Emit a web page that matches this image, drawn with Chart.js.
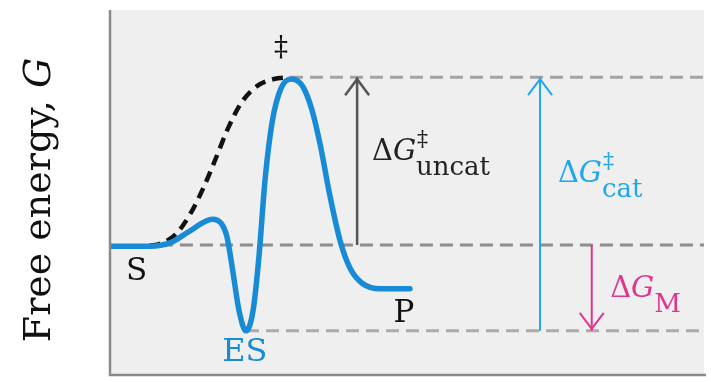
<!DOCTYPE html>
<html>
<head>
<meta charset="UTF-8">
<title>Free energy diagram</title>
<style>
  html, body { margin: 0; background: #fff; }
  #wrap { width: 711px; height: 382px; }
</style>
</head>
<body>
<div id="wrap"><canvas id="chart"></canvas></div>
<script src="https://cdn.jsdelivr.net/npm/chart.js"></script>
<script>
// reaction coordinate (0-100) vs free energy (0-100)
const levelTS = 81.6, levelS = 35.6, levelES = 12.1, levelP = 23.5;

// catalysed path (blue): S -> ES -> transition state -> P
const catX = [0, 6.7, 10.1, 13.5, 17.2, 18.7, 19.7, 20.7, 21.7, 22.9, 24.1, 25.1, 26.1, 27.3, 28.8, 30.6, 32.5, 34.0, 35.4, 37.0, 38.7, 40.4, 42.4, 45.5, 50.5];
const catG = [35.3, 35.3, 36.2, 39.5, 42.7, 41.6, 37.8, 28.2, 17.8, 12.1, 17.8, 32.9, 53.4, 69.3, 78.6, 81.1, 78.9, 72.6, 63.0, 49.3, 37.0, 29.3, 25.2, 23.6, 23.6];

// uncatalysed path (black dashed)
const uncatX = [6.7, 8.4, 11.1, 13.5, 15.7, 17.7, 19.9, 22.2, 24.8, 27.6, 30.3];
const uncatG = [35.4, 35.9, 38.6, 44.1, 51.2, 58.9, 67.7, 74.8, 79.2, 81.1, 81.6];

// dashed reference levels
const levelStart = [30.3, 8.4, 22.9];
const levelG = [levelTS, levelS, levelES];
const levelColor = ['#a3a3a3', '#8e8e8e', '#ababab'];

// energy arrows
const arrowX = [41.6, 72.4, 81.1];
const arrowFrom = [levelS, levelES, levelS];
const arrowTo = [levelTS, levelTS, levelES];
const arrowColor = ['#555555', '#1fa6ee', '#e0358c'];
const arrowWidth = [2.5, 2, 2];

const serif = '"DejaVu Serif", serif';

const datasets = [];
levelG.forEach((g, i) => {
  datasets.push({
    data: [{ x: levelStart[i], y: g }, { x: 100, y: g }],
    borderColor: levelColor[i], borderWidth: 3, borderDash: [13, 7],
    showLine: true, pointRadius: 0, order: 4
  });
});
arrowX.forEach((ax, i) => {
  datasets.push({
    data: [{ x: ax, y: arrowFrom[i] }, { x: ax, y: arrowTo[i] }],
    borderColor: arrowColor[i], borderWidth: arrowWidth[i],
    showLine: true, pointRadius: 0, order: 3
  });
});
datasets.push({
  data: uncatX.map((v, i) => ({ x: v, y: uncatG[i] })),
  borderColor: '#111', borderWidth: 4.5, borderDash: [11, 7],
  showLine: true, pointRadius: 0, cubicInterpolationMode: 'monotone', order: 1
});
datasets.push({
  data: catX.map((v, i) => ({ x: v, y: catG[i] })),
  borderColor: '#178bd6', borderWidth: 5.5, borderCapStyle: 'round', borderJoinStyle: 'round',
  showLine: true, pointRadius: 0, cubicInterpolationMode: 'monotone', order: 0
});

function deltaG(ctx, px, base, color, sup, sub) {
  ctx.fillStyle = color;
  ctx.textBaseline = 'alphabetic';
  ctx.textAlign = 'left';
  ctx.font = '29px ' + serif;
  ctx.fillText('\u0394', px, base);
  let cx = px + ctx.measureText('\u0394').width;
  ctx.font = 'italic 29px ' + serif;
  ctx.fillText('G', cx, base);
  cx += ctx.measureText('G').width;
  if (sup) {
    ctx.font = '22px ' + serif;
    ctx.fillText(sup, cx + 1, base - 14);
  }
  ctx.font = '26px ' + serif;
  ctx.fillText(sub, cx, base + 15);
}

const drawing = {
  id: 'drawing',
  beforeDatasetsDraw(chart) {
    const { ctx, chartArea: a } = chart;
    ctx.save();
    ctx.fillStyle = '#efefef';
    ctx.fillRect(a.left, a.top, a.right - a.left, a.bottom - a.top);
    ctx.restore();
  },
  afterDatasetsDraw(chart) {
    const { ctx, chartArea: a, scales: { x, y } } = chart;
    ctx.save();
    // axes
    ctx.strokeStyle = '#8a8a8a';
    ctx.lineWidth = 2.5;
    ctx.beginPath();
    ctx.moveTo(a.left, a.top);
    ctx.lineTo(a.left, a.bottom);
    ctx.lineTo(a.right + 2, a.bottom);
    ctx.stroke();

    // arrow heads
    arrowX.forEach((ax, i) => {
      const up = arrowTo[i] > arrowFrom[i];
      const tx = x.getPixelForValue(ax);
      const ty = y.getPixelForValue(arrowTo[i]) + (up ? 2 : -2);
      const dir = up ? 1 : -1;
      ctx.strokeStyle = arrowColor[i];
      ctx.lineWidth = arrowWidth[i];
      ctx.beginPath();
      ctx.moveTo(tx - 12, ty + dir * 16);
      ctx.lineTo(tx, ty);
      ctx.lineTo(tx + 12, ty + dir * 16);
      ctx.stroke();
    });

    // state labels
    ctx.textAlign = 'center';
    ctx.textBaseline = 'middle';
    ctx.fillStyle = '#111';
    ctx.font = '28px ' + serif;
    ctx.fillText('\u2021', x.getPixelForValue(28.8), y.getPixelForValue(89.3));
    ctx.font = '31px ' + serif;
    ctx.fillText('S', x.getPixelForValue(4.5), y.getPixelForValue(28.2));
    ctx.fillText('P', x.getPixelForValue(49.5), y.getPixelForValue(16.7));
    ctx.fillStyle = '#178bd6';
    ctx.font = '32px ' + serif;
    ctx.fillText('ES', x.getPixelForValue(22.7), y.getPixelForValue(6.0));

    // energy differences
    deltaG(ctx, x.getPixelForValue(44.1), y.getPixelForValue(58.9), '#222', '\u2021', 'uncat');
    deltaG(ctx, x.getPixelForValue(75.4), y.getPixelForValue(52.9), '#1fa6ee', '\u2021', 'cat');
    deltaG(ctx, x.getPixelForValue(84.2), y.getPixelForValue(21.4), '#e0358c', null, 'M');

    // y axis title
    ctx.translate(50, 200);
    ctx.rotate(-Math.PI / 2);
    ctx.fillStyle = '#111';
    ctx.textBaseline = 'alphabetic';
    ctx.textAlign = 'left';
    ctx.font = '38px ' + serif;
    const t1 = 'Free energy, ';
    const w1 = ctx.measureText(t1).width;
    ctx.font = 'italic 38px ' + serif;
    const w2 = ctx.measureText('G').width;
    const start = -(w1 + w2) / 2;
    ctx.font = '38px ' + serif;
    ctx.fillText(t1, start, 0);
    ctx.font = 'italic 38px ' + serif;
    ctx.fillText('G', start + w1, 0);
    ctx.restore();
  }
};

new Chart(document.getElementById('chart'), {
  type: 'scatter',
  data: { datasets },
  options: {
    responsive: true,
    maintainAspectRatio: false,
    animation: false,
    layout: { padding: { left: 110, top: 10, right: 7, bottom: 7 } },
    plugins: { legend: { display: false }, tooltip: { enabled: false } },
    scales: {
      x: { type: 'linear', min: 0, max: 100, display: false },
      y: { type: 'linear', min: 0, max: 100, display: false }
    }
  },
  plugins: [drawing]
});
</script>
</body>
</html>
